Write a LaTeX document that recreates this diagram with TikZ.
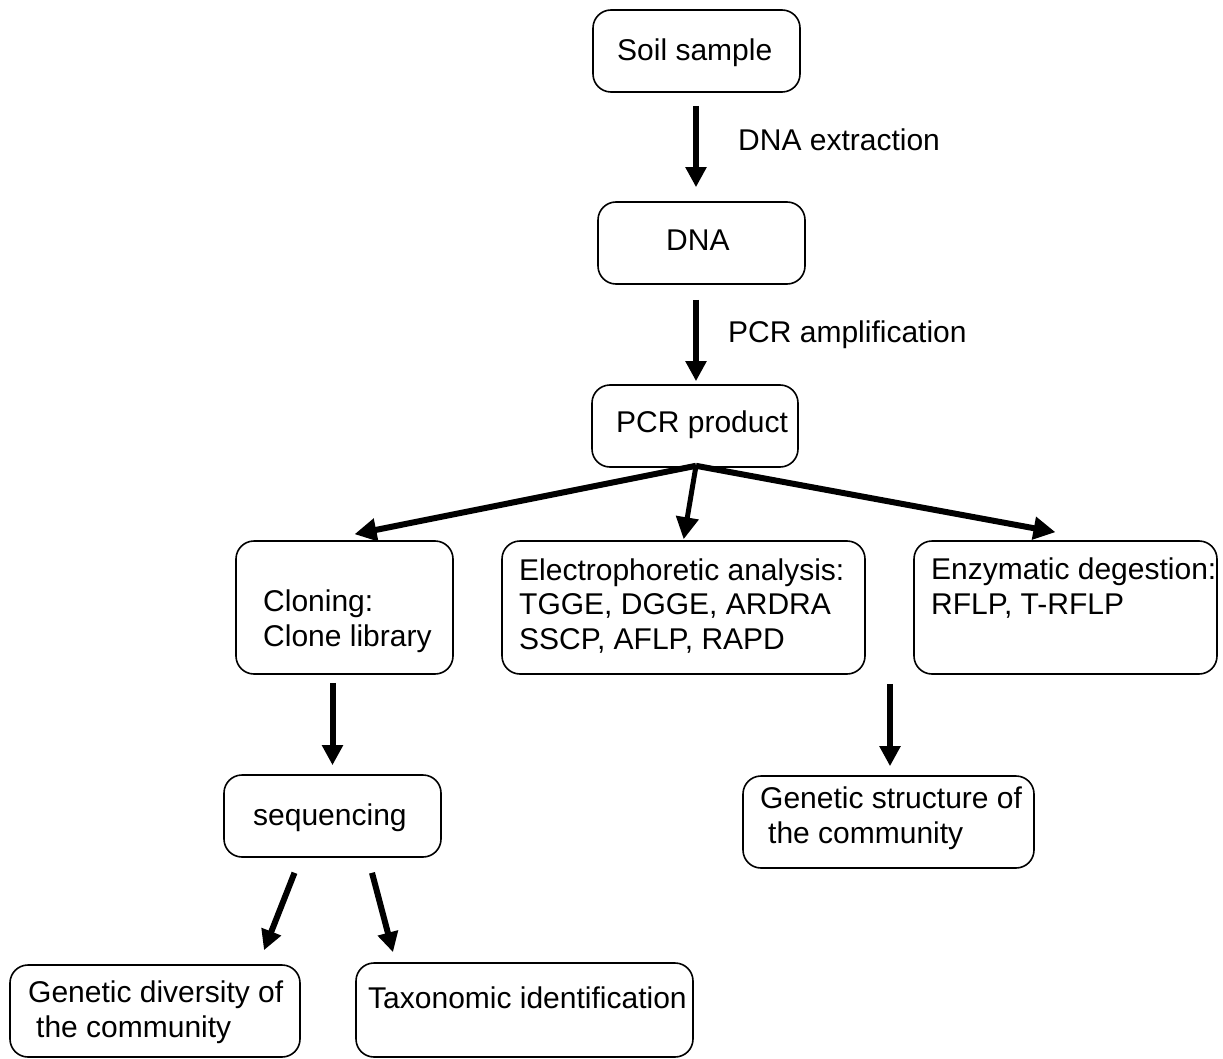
\documentclass[tikz,border=0pt]{standalone}
\usepackage{fontspec}
\setmainfont{Liberation Sans}
\usetikzlibrary{arrows.meta,calc}
\begin{document}
\begin{tikzpicture}[x=1pt,y=-1pt,
  box/.style={draw=black, line width=1.6pt, rounded corners=18pt, inner sep=0pt},
  txt/.style={inner sep=0pt, anchor=base west, align=left, font=\fontsize{30}{34.5}\selectfont},
  arr/.style={line width=6pt, -{Triangle[length=20pt,width=20pt]}},
  arrd/.style={line width=6pt, -{Triangle[length=22pt,width=22pt]}}]
\useasboundingbox (0,0) rectangle (1223,1059);
% boxes
\node[box, minimum width=207pt, minimum height=82pt] (soil) at (696.5,51) {};
\node[box, minimum width=207pt, minimum height=82pt] (dna) at (701.5,243) {};
\node[box, minimum width=206pt, minimum height=82pt] (pcr) at (695,426) {};
\node[box, minimum width=217pt, minimum height=133pt] (clon) at (344.5,607.5) {};
\node[box, minimum width=363pt, minimum height=133pt] (elec) at (683.5,607.5) {};
\node[box, minimum width=303pt, minimum height=133pt] (enz) at (1065.5,607.5) {};
\node[box, minimum width=217pt, minimum height=82pt] (seq) at (332.5,816) {};
\node[box, minimum width=291pt, minimum height=92pt] (struct) at (888.5,822) {};
\node[box, minimum width=290pt, minimum height=92pt] (div) at (155,1011) {};
\node[box, minimum width=337pt, minimum height=94pt] (tax) at (524.5,1010) {};
% texts (base anchor = baseline of the last line)
\node[txt] (tsoil) at (617,61) {Soil sample};
\node[txt] (tdna) at (666,251) {DNA};
\node[txt] (tpcr) at (616,432) {PCR product};
\node[txt] (textr) at (738,151) {DNA extraction};
\node[txt] (tamp) at (728,342) {PCR amplification};
\node[txt] (tclon) at (263,646) {Cloning:\\Clone library};
\node[txt] (telec) at (519,649) {Electrophoretic analysis:\\TGGE, DGGE, ARDRA\\SSCP, AFLP, RAPD};
\node[txt] (tenz) at (931,614) {Enzymatic degestion:\\RFLP, T-RFLP};
\node[txt] (tseq) at (253,825) {sequencing};
\node[txt] (tstruct) at (760,843) {Genetic structure of\\\hspace*{8pt}the community};
\node[txt] (tdiv) at (28,1037) {Genetic diversity of\\\hspace*{8pt}the community};
\node[txt] (ttax) at (368,1008) {Taxonomic identification};
% connectors
\draw[arr, shorten <=13pt, shorten >=14pt] ([xshift=-0.5pt]soil.south) -- ([xshift=-0.5pt]soil.south |- dna.north);
\draw[arr, shorten <=15pt, shorten >=3pt] ([xshift=1pt]pcr.north |- dna.south) -- ([xshift=1pt]pcr.north);
\draw[arrd] ($(pcr.south)+(1,-2)$) -- ($(clon.north)+(10,-6)$);
\draw[arrd, line width=5pt, shorten >=1pt] ($(pcr.south)+(1,-2)$) -- (elec.north);
\draw[arrd] ($(pcr.south)+(1,-2)$) -- ($(enz.north)+(-10,-8)$);
\draw[arr, shorten <=8pt, shorten >=9pt] (seq.north |- clon.south) -- (seq.north);
\draw[arr, shorten <=9pt, shorten >=9pt] ([xshift=1.5pt]struct.north |- enz.south) -- ([xshift=1.5pt]struct.north);
\draw[arr] ($(seq.south)+(-38,15)$) -- ($(div.north)+(109,-14)$);
\draw[arr] ($(seq.south)+(39.5,15)$) -- ($(tax.north)+(-131.5,-10)$);
\end{tikzpicture}
\end{document}
